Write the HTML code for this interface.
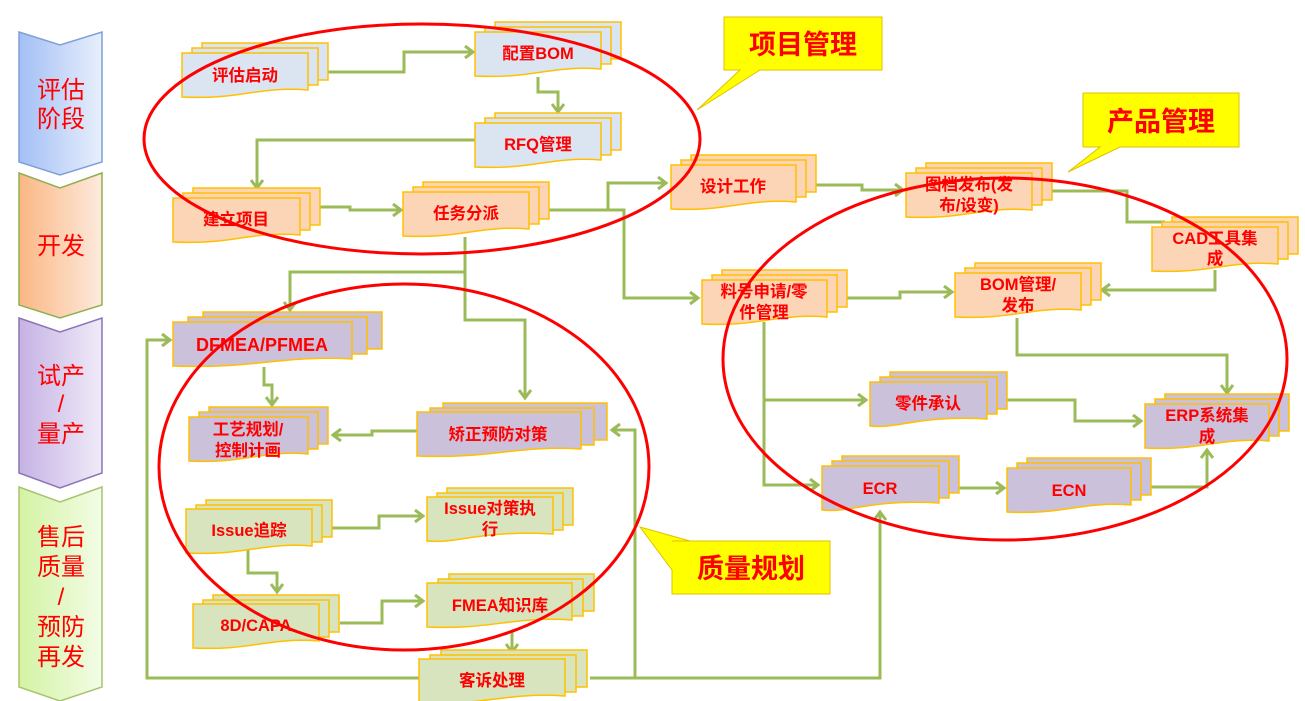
<!DOCTYPE html>
<html><head><meta charset="utf-8"><style>
html,body{margin:0;padding:0;background:#fff;width:1305px;height:701px;overflow:hidden}
svg text{font-family:"Liberation Sans","Noto Sans CJK SC",sans-serif;fill:#ff0000}
.n text{font-size:16.5px;text-anchor:middle;font-weight:bold}
.s text{font-size:24px;text-anchor:middle}
.c{fill:none;stroke:#9bbb59;stroke-width:3}
.b{stroke:#ffc000;stroke-width:1.5}
</style></head><body>
<svg width="1305" height="701" viewBox="0 0 1305 701" xmlns="http://www.w3.org/2000/svg">
<defs>
<marker id="a" markerUnits="userSpaceOnUse" markerWidth="14" markerHeight="14" refX="11" refY="7" orient="auto"><path d="M3,1 L11,7 L3,13" fill="none" stroke="#9bbb59" stroke-width="3"/></marker>
<linearGradient id="gb" x1="0" x2="1"><stop offset="0" stop-color="#a3bff5"/><stop offset="1" stop-color="#e8effc"/></linearGradient>
<linearGradient id="go" x1="0" x2="1"><stop offset="0" stop-color="#fbb784"/><stop offset="1" stop-color="#fdeadd"/></linearGradient>
<linearGradient id="gp" x1="0" x2="1"><stop offset="0" stop-color="#c5b2e4"/><stop offset="1" stop-color="#f0ebf8"/></linearGradient>
<linearGradient id="gg" x1="0" x2="1"><stop offset="0" stop-color="#d3f3a3"/><stop offset="1" stop-color="#f3fce6"/></linearGradient>
</defs>

<!-- sidebar -->
<g class="s">
<path d="M19,32 L60,45 L102,32 L102,162 L60,175 L19,162 Z" fill="url(#gb)" stroke="#7f9fd8" stroke-width="1.5"/>
<text x="61" y="98">评估</text><text x="61" y="127">阶段</text>
<path d="M19,173 L60,188 L102,173 L102,305 L60,318 L19,305 Z" fill="url(#go)" stroke="#8fb04f" stroke-width="1.5"/>
<text x="61" y="254">开发</text>
<path d="M19,318 L60,332 L102,318 L102,473 L60,488 L19,473 Z" fill="url(#gp)" stroke="#8a74b4" stroke-width="1.5"/>
<text x="61" y="384">试产</text><text x="61" y="412">/</text><text x="61" y="442">量产</text>
<path d="M19,487 L60,502 L102,487 L102,687 L60,701 L19,687 Z" fill="url(#gg)" stroke="#a8c46e" stroke-width="1.5"/>
<text x="61" y="545">售后</text><text x="61" y="575">质量</text><text x="61" y="605">/</text><text x="61" y="635">预防</text><text x="61" y="665">再发</text>
</g>

<!-- connectors -->
<g class="c">
<path d="M308,72 H404 V52 H473" marker-end="url(#a)"/>
<path d="M538,77 V92 H558 V112" marker-end="url(#a)"/>
<path d="M475,140 H257 V188" marker-end="url(#a)"/>
<path d="M300,207 H350 V210 H401" marker-end="url(#a)"/>
<path d="M529,210 H624 V298 H698" marker-end="url(#a)"/>
<path d="M608,210 V183 H666" marker-end="url(#a)"/>
<path d="M465,237 V272 H290 V310" marker-end="url(#a)"/>
<path d="M465,272 V320 H525 V398" marker-end="url(#a)"/>
<path d="M796,185 H862 V190 H903" marker-end="url(#a)"/>
<path d="M1032,191 H1127 V222 H1165"/>
<path d="M1215,270 V290 H1102" marker-end="url(#a)"/>
<path d="M827,298 H900 V292 H952" marker-end="url(#a)"/>
<path d="M1017,318 V355 H1227 V393" marker-end="url(#a)"/>
<path d="M764,322 V485 H818" marker-end="url(#a)"/>
<path d="M764,400 H866" marker-end="url(#a)"/>
<path d="M1006,400 H1075 V421 H1141" marker-end="url(#a)"/>
<path d="M958,488 H1004" marker-end="url(#a)"/>
<path d="M1150,487 H1207 V450" marker-end="url(#a)"/>
<path d="M264,367 V385 H272 V405" marker-end="url(#a)"/>
<path d="M417,431 H372 V435 H333" marker-end="url(#a)"/>
<path d="M332,528 H379 V516 H423" marker-end="url(#a)"/>
<path d="M248,548 V573 H277 V592" marker-end="url(#a)"/>
<path d="M340,623 H382 V601 H423" marker-end="url(#a)"/>
<path d="M512,630 V652" marker-end="url(#a)"/>
<path d="M419,678 H147 V340 H170" marker-end="url(#a)"/>
<path d="M590,678 H880 V512" marker-end="url(#a)"/>
<path d="M635,678 V430 H612" marker-end="url(#a)"/>
</g>

<!-- nodes -->
<g class="n">
<g fill="#dbe5f1">
<rect x="202" y="43" width="126" height="37" class="b"/><rect x="192" y="48" width="126" height="37" class="b"/>
<path d="M182,53 h126 v37 C258,86 240,100 182,97 Z" class="b"/>
<rect x="495" y="22" width="126" height="37" class="b"/><rect x="485" y="27" width="126" height="37" class="b"/>
<path d="M475,32 h126 v37 C551,65 533,79 475,76 Z" class="b"/>
<rect x="495" y="113" width="126" height="37" class="b"/><rect x="485" y="118" width="126" height="37" class="b"/>
<path d="M475,123 h126 v37 C551,156 533,170 475,167 Z" class="b"/>
</g>
<text x="245" y="81">评估启动</text>
<text x="538" y="59">配置BOM</text>
<text x="538" y="150">RFQ管理</text>
<g fill="#fbd5b5">
<rect x="193" y="188" width="127" height="37" class="b"/><rect x="183" y="193" width="127" height="37" class="b"/>
<path d="M173,198 h127 v37 C250,231 232,245 173,242 Z" class="b"/>
<rect x="423" y="182" width="126" height="37" class="b"/><rect x="413" y="187" width="126" height="37" class="b"/>
<path d="M403,192 h126 v37 C479,225 461,239 403,236 Z" class="b"/>
<rect x="691" y="155" width="125" height="37" class="b"/><rect x="681" y="160" width="125" height="37" class="b"/>
<path d="M671,165 h125 v37 C746,198 728,212 671,209 Z" class="b"/>
<rect x="926" y="163" width="126" height="37" class="b"/><rect x="916" y="168" width="126" height="37" class="b"/>
<path d="M906,173 h126 v37 C982,206 964,220 906,217 Z" class="b"/>
<rect x="1172" y="217" width="126" height="37" class="b"/><rect x="1162" y="222" width="126" height="37" class="b"/>
<path d="M1152,227 h126 v37 C1228,260 1210,274 1152,271 Z" class="b"/>
<rect x="722" y="270" width="125" height="37" class="b"/><rect x="712" y="275" width="125" height="37" class="b"/>
<path d="M702,280 h125 v37 C777,313 759,327 702,324 Z" class="b"/>
<rect x="975" y="263" width="126" height="37" class="b"/><rect x="965" y="268" width="126" height="37" class="b"/>
<path d="M955,273 h126 v37 C1031,306 1013,320 955,317 Z" class="b"/>
</g>
<text x="236" y="225">建立项目</text>
<text x="466" y="219">任务分派</text>
<text x="733" y="192">设计工作</text>
<text x="969" y="190">图档发布(发</text><text x="969" y="211">布/设变)</text>
<text x="1215" y="244">CAD工具集</text><text x="1215" y="264">成</text>
<text x="764" y="297">料号申请/零</text><text x="764" y="318">件管理</text>
<text x="1018" y="290">BOM管理/</text><text x="1018" y="311">发布</text>
<g fill="#ccc1da">
<rect x="203" y="312" width="179" height="37" class="b"/><rect x="188" y="317" width="179" height="37" class="b"/>
<path d="M173,322 h179 v37 C282,355 257,369 173,366 Z" class="b"/>
<rect x="890" y="372" width="117" height="37" class="b"/><rect x="880" y="377" width="117" height="37" class="b"/>
<path d="M870,382 h117 v37 C917,415 900,429 870,426 Z" class="b"/>
<rect x="1165" y="394" width="124" height="37" class="b"/><rect x="1155" y="399" width="124" height="37" class="b"/>
<path d="M1145,404 h124 v37 C1220,437 1202,451 1145,448 Z" class="b"/>
<rect x="842" y="456" width="117" height="37" class="b"/><rect x="832" y="461" width="117" height="37" class="b"/>
<path d="M822,466 h117 v37 C869,499 852,513 822,510 Z" class="b"/>
<rect x="1027" y="458" width="124" height="37" class="b"/><rect x="1017" y="463" width="124" height="37" class="b"/>
<path d="M1007,468 h124 v37 C1082,501 1064,515 1007,512 Z" class="b"/>
<rect x="209" y="407" width="119" height="37" class="b"/><rect x="199" y="412" width="119" height="37" class="b"/>
<path d="M189,417 h119 v37 C261,450 244,464 189,461 Z" class="b"/>
<rect x="443" y="403" width="164" height="37" class="b"/><rect x="430" y="408" width="164" height="37" class="b"/>
<path d="M417,412 h164 v37 C516,445 493,459 417,456 Z" class="b"/>
</g>
<text x="262" y="351" style="font-size:18px">DFMEA/PFMEA</text>
<text x="928" y="409">零件承认</text>
<text x="1207" y="421">ERP系统集</text><text x="1207" y="442">成</text>
<text x="880" y="494">ECR</text>
<text x="1069" y="496">ECN</text>
<text x="248" y="435">工艺规划/</text><text x="248" y="456">控制计画</text>
<text x="498" y="440">矫正预防对策</text>
<g fill="#d7e4bd">
<rect x="206" y="500" width="126" height="37" class="b"/><rect x="196" y="505" width="126" height="37" class="b"/>
<path d="M186,509 h126 v37 C262,542 244,556 186,553 Z" class="b"/>
<rect x="447" y="488" width="126" height="37" class="b"/><rect x="437" y="493" width="126" height="37" class="b"/>
<path d="M427,497 h126 v37 C477,530 459,544 427,541 Z" class="b"/>
<rect x="213" y="595" width="126" height="37" class="b"/><rect x="203" y="600" width="126" height="37" class="b"/>
<path d="M193,604 h126 v37 C269,637 251,651 193,648 Z" class="b"/>
<rect x="449" y="574" width="145" height="37" class="b"/><rect x="438" y="579" width="145" height="37" class="b"/>
<path d="M427,583 h145 v37 C512,616 492,630 427,627 Z" class="b"/>
<rect x="441" y="650" width="146" height="37" class="b"/><rect x="430" y="655" width="146" height="37" class="b"/>
<path d="M419,659 h146 v37 C505,692 485,706 419,703 Z" class="b"/>
</g>
<text x="249" y="536">Issue追踪</text>
<text x="490" y="514">Issue对策执</text><text x="490" y="535">行</text>
<text x="256" y="631">8D/CAPA</text>
<text x="500" y="611">FMEA知识库</text>
<text x="492" y="686">客诉处理</text>
</g>

<g fill="none" stroke="#ff0000" stroke-width="3">
<ellipse cx="422" cy="139" rx="278" ry="115"/>
<ellipse cx="404" cy="467" rx="245" ry="183"/>
<ellipse cx="1005" cy="359" rx="282" ry="181"/>
</g>

<g fill="#ffff00" stroke="#e0c000" stroke-width="1">
<path d="M724,17 H882 V70 H760 L697,110 L740,70 H724 Z"/>
<path d="M1083,93 H1239 V147 H1120 L1068,172 L1100,147 H1083 Z"/>
<path d="M672,541 H830 V594 H672 V570 L640,527 L690,541 Z"/>
</g>
<g style="font-size:27px;font-weight:bold">
<text x="803" y="54" text-anchor="middle">项目管理</text>
<text x="1161" y="131" text-anchor="middle">产品管理</text>
<text x="751" y="578" text-anchor="middle">质量规划</text>
</g>
</svg>
</body></html>
